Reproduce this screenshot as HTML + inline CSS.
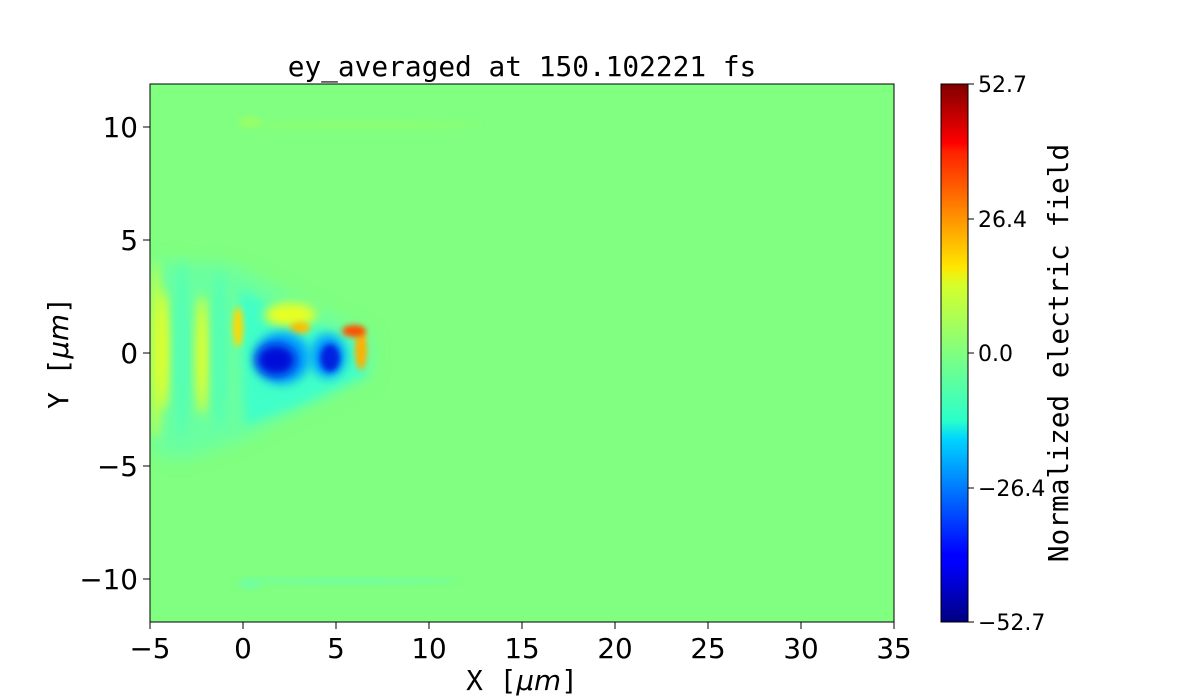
<!DOCTYPE html>
<html><head><meta charset="utf-8"><style>body{margin:0;background:#fff}svg{display:block}</style></head><body>
<svg width="1200" height="700" xmlns="http://www.w3.org/2000/svg" font-family="DejaVu Sans, Liberation Sans, sans-serif">
<defs>
<filter id="b" x="-50%" y="-50%" width="200%" height="200%"><feGaussianBlur stdDeviation="5"/></filter>
<filter id="b2" x="-50%" y="-50%" width="200%" height="200%"><feGaussianBlur stdDeviation="3"/></filter>
<filter id="b8" x="-50%" y="-50%" width="200%" height="200%"><feGaussianBlur stdDeviation="8"/></filter>
<clipPath id="c"><rect x="150" y="84" width="744" height="538"/></clipPath>
<linearGradient id="jet" x1="0" y1="1" x2="0" y2="0">
<stop offset="0" stop-color="#000080"/><stop offset="0.11" stop-color="#0000ff"/><stop offset="0.125" stop-color="#0000ff"/>
<stop offset="0.34" stop-color="#00d4ff"/><stop offset="0.375" stop-color="#2bffca"/><stop offset="0.5" stop-color="#80ff80"/>
<stop offset="0.625" stop-color="#d4ff2b"/><stop offset="0.66" stop-color="#ffe600"/><stop offset="0.875" stop-color="#ff2000"/>
<stop offset="0.89" stop-color="#ff0000"/><stop offset="1" stop-color="#800000"/></linearGradient>
</defs>
<rect x="150" y="84" width="744" height="538" fill="#80ff80"/>
<g clip-path="url(#c)">
<ellipse cx="360" cy="125" rx="120" ry="3" fill="#8fff70" filter="url(#b2)"/>
<ellipse cx="250" cy="122" rx="12" ry="5" fill="#99ff66" filter="url(#b2)"/>
<ellipse cx="350" cy="581" rx="110" ry="3" fill="#70ffa0" filter="url(#b2)"/>
<ellipse cx="250" cy="584" rx="12" ry="5" fill="#70ffa0" filter="url(#b2)"/>
<polygon points="150,260 230,265 300,300 372,335 372,375 300,410 240,440 180,460 150,450" fill="#6affa0" filter="url(#b8)"/>
<ellipse cx="156" cy="350" rx="6" ry="90" fill="#c8ff40" filter="url(#b)"/>
<ellipse cx="163" cy="350" rx="6" ry="60" fill="#e8ff20" filter="url(#b)"/>
<ellipse cx="182" cy="350" rx="6" ry="90" fill="#50ffb8" filter="url(#b)"/>
<ellipse cx="202" cy="355" rx="6" ry="60" fill="#e8ff20" filter="url(#b)"/>
<ellipse cx="220" cy="350" rx="6" ry="80" fill="#50ffb8" filter="url(#b)"/>
<polygon points="240,290 300,320 365,345 365,375 300,405 245,425" fill="#40ffc8" filter="url(#b)"/>
<ellipse cx="238" cy="327" rx="5" ry="20" fill="#ffd800" filter="url(#b2)"/>
<ellipse cx="290" cy="315" rx="26" ry="12" fill="#e8ff20" filter="url(#b)"/>
<ellipse cx="300" cy="328" rx="10" ry="6" fill="#ffc000" filter="url(#b2)"/>
<ellipse cx="282" cy="358" rx="28" ry="26" fill="#00a0ff" filter="url(#b)"/>
<ellipse cx="276" cy="360" rx="20" ry="16" fill="#0010d8" filter="url(#b)"/>
<ellipse cx="328" cy="356" rx="18" ry="22" fill="#00a0ff" filter="url(#b)"/>
<ellipse cx="330" cy="358" rx="10" ry="14" fill="#0020e0" filter="url(#b2)"/>
<ellipse cx="361" cy="350" rx="6" ry="20" fill="#ffb000" filter="url(#b2)"/>
<ellipse cx="354" cy="331" rx="12" ry="6" fill="#ff5000" filter="url(#b2)"/>
</g>
<rect x="150" y="84" width="744" height="538" fill="none" stroke="#000" stroke-width="1"/>
<g stroke="#000" stroke-width="1">
<line x1="150" y1="622" x2="150" y2="629"/><line x1="243" y1="622" x2="243" y2="629"/><line x1="336" y1="622" x2="336" y2="629"/><line x1="429" y1="622" x2="429" y2="629"/><line x1="522" y1="622" x2="522" y2="629"/><line x1="615" y1="622" x2="615" y2="629"/><line x1="708" y1="622" x2="708" y2="629"/><line x1="801" y1="622" x2="801" y2="629"/><line x1="894" y1="622" x2="894" y2="629"/>
<line x1="143" y1="127" x2="150" y2="127"/><line x1="143" y1="240" x2="150" y2="240"/><line x1="143" y1="353" x2="150" y2="353"/><line x1="143" y1="466" x2="150" y2="466"/><line x1="143" y1="579" x2="150" y2="579"/>
</g>
<g font-size="27.8" text-anchor="middle">
<text x="150" y="658">−5</text><text x="243" y="658">0</text><text x="336" y="658">5</text><text x="429" y="658">10</text><text x="522" y="658">15</text><text x="615" y="658">20</text><text x="708" y="658">25</text><text x="801" y="658">30</text><text x="894" y="658">35</text>
</g>
<g font-size="27.8" text-anchor="end">
<text x="138" y="137">10</text><text x="138" y="250">5</text><text x="138" y="363">0</text><text x="138" y="476">−5</text><text x="138" y="589">−10</text>
</g>
<text x="522" y="690" font-size="27.8" text-anchor="middle" font-family="DejaVu Sans Mono, Liberation Mono, monospace">X [<tspan font-style="italic" font-family="DejaVu Sans">μm</tspan>]</text>
<text transform="translate(68,353) rotate(-90)" font-size="27.8" text-anchor="middle" font-family="DejaVu Sans Mono, Liberation Mono, monospace">Y [<tspan font-style="italic" font-family="DejaVu Sans">μm</tspan>]</text>
<text x="522" y="76" font-size="27.8" text-anchor="middle" font-family="DejaVu Sans Mono, Liberation Mono, monospace">ey_averaged at 150.102221 fs</text>
<rect x="941" y="84" width="27" height="538" fill="url(#jet)" stroke="#000" stroke-width="1"/>
<g stroke="#000"><line x1="968" y1="84" x2="974" y2="84"/><line x1="968" y1="219" x2="974" y2="219"/><line x1="968" y1="353" x2="974" y2="353"/><line x1="968" y1="488" x2="974" y2="488"/><line x1="968" y1="622" x2="974" y2="622"/></g>
<g font-size="22"><text x="978" y="92">52.7</text><text x="978" y="227">26.4</text><text x="978" y="361">0.0</text><text x="978" y="496">−26.4</text><text x="978" y="630">−52.7</text></g>
<text transform="translate(1068,353) rotate(-90)" font-size="27.8" text-anchor="middle" font-family="DejaVu Sans Mono, Liberation Mono, monospace">Normalized electric field</text>
</svg>
</body></html>
